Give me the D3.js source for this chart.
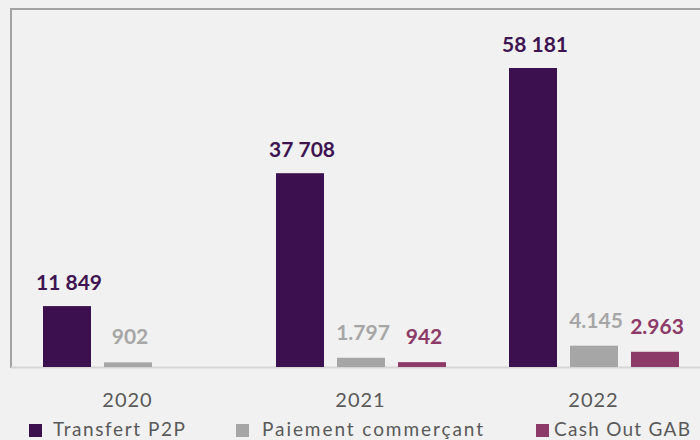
<!DOCTYPE html>
<html>
<head>
<meta charset="utf-8">
<script src="https://cdn.jsdelivr.net/npm/d3@7"></script>
<style>
  html, body { margin: 0; padding: 0; background: #f1f1f1; }
  svg { display: block; }
</style>
</head>
<body>
<div id="chart"></div>
<script>
// data
var years = ["2020", "2021", "2022"];
var series = ["Transfert P2P", "Paiement commerçant", "Cash Out GAB"];
var p2p = [11849, 37708, 58181];
var paiement = [902, 1797, 4145];
var cashout = [null, 942, 2963];
var p2pLabels = ["11 849", "37 708", "58 181"];
var paiementLabels = ["902", "1.797", "4.145"];
var cashoutLabels = ["", "942", "2.963"];

var colors = ["#3c0f4e", "#a6a6a6", "#8c3a68"];
var labelColors = ["#3e1451", "#a6a6a6", "#8c3a68"];

var width = 700, height = 440;
var baseY = 367;

var svg = d3.select("#chart").append("svg")
  .attr("width", width)
  .attr("height", height);

svg.append("rect")
  .attr("width", width).attr("height", height)
  .attr("fill", "#f1f1f1");

// frame around the plot (cut off at the right)
svg.append("path")
  .attr("d", "M11," + (baseY + 1) + " L11,9 L702,9")
  .attr("fill", "none")
  .attr("stroke", "#a3a3a3")
  .attr("stroke-width", 2);

var x0 = d3.scaleBand().domain(years).range([11, 11 + 3 * 233]);
var x1 = d3.scaleBand().domain(series).range([32, 202]).paddingInner(0.213);
var y = d3.scaleLinear().domain([0, d3.max(p2p)]).range([baseY, 68]);

var values = [p2p, paiement, cashout];
var labels = [p2pLabels, paiementLabels, cashoutLabels];
var rows = [];
series.forEach(function(s, si) {
  years.forEach(function(yr, yi) {
    if (values[si][yi] == null) return;
    rows.push({year: yr, series: s, si: si, value: values[si][yi], label: labels[si][yi]});
  });
});

// baseline
svg.append("line")
  .attr("x1", 11).attr("x2", width)
  .attr("y1", baseY + 0.5).attr("y2", baseY + 0.5)
  .attr("stroke", "#d6d6d6")
  .attr("stroke-width", 2);

svg.append("g").selectAll("rect")
  .data(rows)
  .enter().append("rect")
    .attr("x", function(d) { return x0(d.year) + x1(d.series); })
    .attr("y", function(d) { return y(d.value); })
    .attr("width", x1.bandwidth())
    .attr("height", function(d) { return baseY - y(d.value); })
    .attr("fill", function(d) { return colors[d.si]; });

svg.append("g").selectAll("text")
  .data(rows)
  .enter().append("text")
    .attr("x", function(d) { return x0(d.year) + x1(d.series) + x1.bandwidth() / 2 + 2; })
    .attr("y", function(d) { return y(d.value) - (d.si == 0 ? 16 : 18); })
    .attr("text-anchor", "middle")
    .attr("font-family", "Lato, 'Open Sans', sans-serif")
    .attr("font-weight", "bold")
    .attr("font-size", 21)
    .attr("fill", function(d) { return labelColors[d.si]; })
    .text(function(d) { return d.label; });

// year labels
var xAxis = d3.axisBottom(x0).tickSize(0).tickPadding(0);
var ax = svg.append("g")
  .attr("transform", "translate(0," + 392 + ")")
  .call(xAxis);
ax.select(".domain").remove();
ax.selectAll("text")
  .attr("font-family", "Lato, 'Open Sans', sans-serif")
  .attr("font-size", 20)
  .attr("fill", "#595959")
  .attr("letter-spacing", 1)
  .attr("dy", 0)
  .attr("y", 15);

// legend (sits right at the bottom edge, like the original)
var legX = [29, 236, 536];
var legTextX = [53, 262, 554];
var legW = [132, 221, 136];
var leg = svg.append("g").selectAll("g")
  .data(series)
  .enter().append("g");
leg.append("rect")
  .attr("x", function(d, i) { return legX[i]; })
  .attr("y", 424)
  .attr("width", 13).attr("height", 13)
  .attr("fill", function(d, i) { return colors[i]; });
leg.append("text")
  .attr("x", function(d, i) { return legTextX[i]; })
  .attr("y", 436)
  .attr("font-family", "Lato, 'Open Sans', sans-serif")
  .attr("font-size", 19)
  .attr("fill", "#595959")
  .attr("textLength", function(d, i) { return legW[i]; })
  .attr("lengthAdjust", "spacing")
  .text(function(d) { return d; });
</script>
</body>
</html>
